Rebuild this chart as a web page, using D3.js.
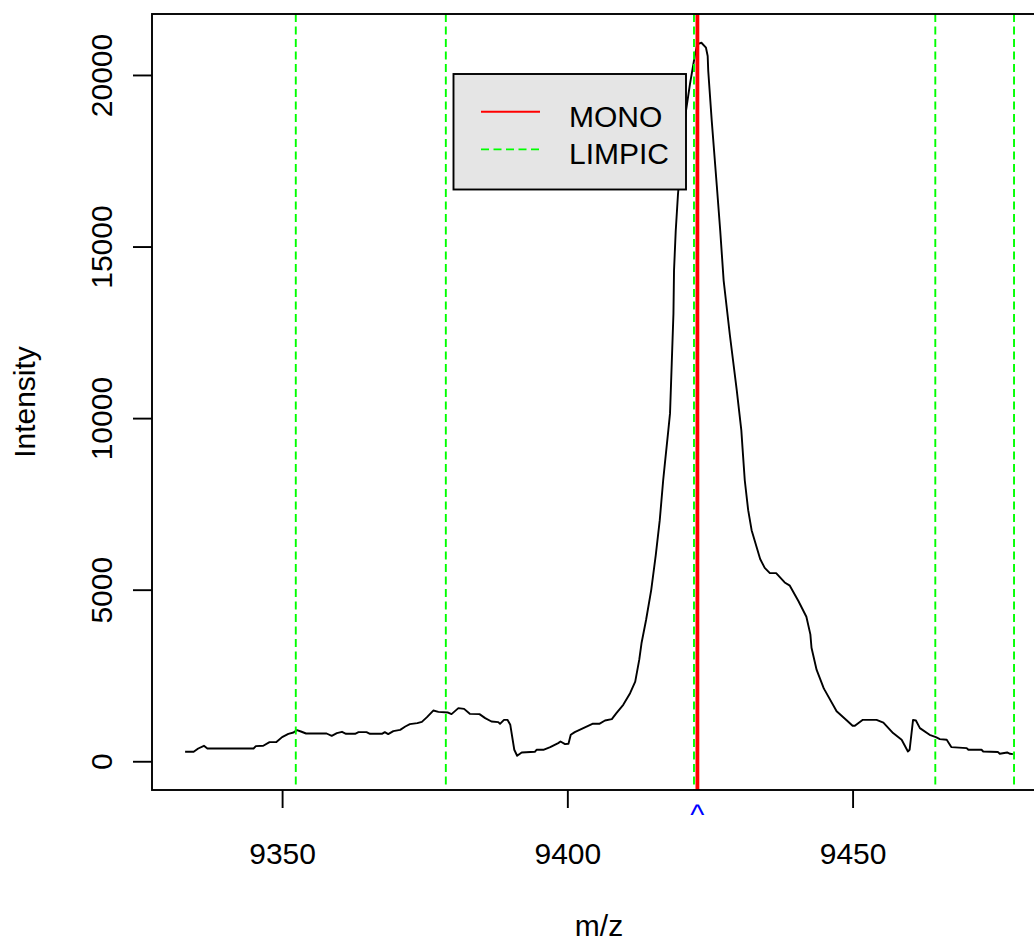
<!DOCTYPE html>
<html lang="en">
<head>
    <meta charset="UTF-8">
    <title>Spectrum peak</title>
    <script src="https://cdn.jsdelivr.net/npm/d3@7/dist/d3.min.js"></script>
    <style>
        body { margin: 0; background: #ffffff; }
        text { font-family: "Liberation Sans", Arial, sans-serif; }
    </style>
</head>
<body>
<script>
    // spectrum: m/z and intensity
    var mzValues = [
        9333.0, 9334.5, 9335.3, 9336.3, 9336.9, 9345.0, 9345.4, 9346.7, 9347.8, 9349.0,
        9350.0, 9351.1, 9352.0, 9352.6, 9353.3, 9354.2, 9357.8, 9358.7, 9359.6, 9360.5,
        9361.2, 9362.8, 9363.4, 9364.8, 9365.4, 9367.5, 9368.0, 9368.6, 9369.5, 9370.7,
        9371.6, 9372.4, 9373.7, 9374.5, 9375.4, 9376.5, 9377.4, 9379.1, 9379.7, 9380.9,
        9381.9, 9382.9, 9384.6, 9385.6, 9386.7, 9387.9, 9388.2, 9388.9, 9389.5, 9390.0,
        9390.7, 9391.2, 9392.0, 9394.3, 9394.6, 9395.8, 9397.0, 9398.4, 9398.8, 9399.6,
        9400.2, 9400.6, 9401.3, 9402.8, 9404.4, 9405.6, 9406.6, 9407.8, 9408.6, 9409.8,
        9411.0, 9411.9, 9412.6, 9413.0, 9413.8, 9414.7, 9415.5, 9416.2, 9416.8, 9417.1,
        9417.7, 9418.0, 9418.3, 9418.6, 9418.7, 9419.0, 9419.4, 9420.1, 9420.8, 9421.5,
        9422.4, 9422.8, 9423.5, 9424.3, 9424.6, 9424.7, 9425.3, 9426.2, 9426.8, 9427.4,
        9428.5, 9429.7, 9430.5, 9430.7, 9431.1, 9431.7, 9432.3, 9433.8, 9434.6, 9435.5,
        9436.6, 9438.1, 9439.0, 9440.5, 9441.9, 9442.6, 9442.8, 9443.7, 9444.9, 9445.1,
        9447.2, 9449.0, 9450.0, 9450.4, 9451.8, 9454.2, 9455.4, 9457.1, 9458.6, 9459.7,
        9460.0, 9460.6, 9461.1, 9461.8, 9463.5, 9464.6, 9465.3, 9466.5, 9467.3, 9470.0,
        9470.3, 9472.6, 9472.9, 9475.5, 9475.8, 9477.1, 9477.6, 9478.1
    ];
    var intensityValues = [
        276, 276, 372, 451, 372, 372, 442, 451, 559, 559,
        704, 800, 838, 908, 867, 809, 809, 742, 820, 858,
        800, 800, 849, 849, 800, 800, 849, 791, 879, 916,
        1012, 1082, 1111, 1149, 1286, 1478, 1440, 1420, 1373, 1548,
        1527, 1382, 1373, 1257, 1158, 1140, 1091, 1207, 1207, 1062,
        335, 160, 256, 276, 335, 335, 413, 529, 576, 500,
        509, 771, 849, 966, 1091, 1091, 1187, 1228, 1402, 1644,
        1984, 2321, 2953, 3438, 4116, 4989, 6007, 7025, 8189, 8683,
        9643, 10138, 11592, 13047, 14298, 15461, 16538, 17788, 18952, 19738,
        20610, 20901, 20939, 20794, 20552, 20116, 18690, 16770, 15461, 14007,
        12407, 10807, 9643, 9149, 8189, 7316, 6734, 5894, 5635, 5483,
        5483, 5210, 5117, 4669, 4212, 3697, 3308, 2662, 2144, 2080,
        1455, 1187, 1033, 1033, 1207, 1207, 1129, 820, 625, 285,
        335, 1207, 1187, 966, 771, 704, 646, 625, 413, 384,
        335, 335, 285, 268, 218, 256, 218, 209
    ];

    // marker positions
    var monoPosition = 9422.8;
    var limpicPositions = [9352.4, 9378.7, 9422.2, 9464.5, 9478.3];

    // ticks and labels
    var xTicks = [9350, 9400, 9450];
    var yTicks = [0, 5000, 10000, 15000, 20000];
    var legendLabels = ["MONO", "LIMPIC"];

    var widthSVG = 1034, heightSVG = 948;
    var plot = {left: 152, top: 14, right: 1046, bottom: 790};

    var svg = d3.select("body").append("svg")
        .attr("width", widthSVG)
        .attr("height", heightSVG);

    var points = mzValues.map(function (d, i) {
        return {mz: d, intensity: intensityValues[i]};
    });

    // R style 4% padding around the data range, y includes 0
    var xExt = d3.extent(mzValues);
    var xPad = (xExt[1] - xExt[0]) * 0.04;
    var yMax = d3.max(intensityValues);
    var yPad = yMax * 0.04;

    var scaleX = d3.scaleLinear()
        .domain([xExt[0] - xPad, xExt[1] + xPad])
        .range([plot.left, plot.right]);

    var scaleY = d3.scaleLinear()
        .domain([-yPad, yMax + yPad])
        .range([plot.bottom, plot.top]);

    // curve
    var line = d3.line()
        .x(function (d) { return scaleX(d.mz); })
        .y(function (d) { return scaleY(d.intensity); });

    svg.append("path")
        .datum(points)
        .attr("d", line)
        .attr("fill", "none")
        .attr("stroke", "#000000")
        .attr("stroke-width", 1.9)
        .attr("stroke-linejoin", "round");

    // LIMPIC lines
    svg.selectAll(".limpic")
        .data(limpicPositions)
        .enter()
        .append("line")
        .attr("class", "limpic")
        .attr("x1", function (d) { return scaleX(d); })
        .attr("x2", function (d) { return scaleX(d); })
        .attr("y1", plot.top)
        .attr("y2", plot.bottom)
        .attr("stroke", "#00ff00")
        .attr("stroke-width", 1.9)
        .attr("stroke-dasharray", "8,4.5");

    // MONO line
    svg.append("line")
        .attr("x1", scaleX(monoPosition))
        .attr("x2", scaleX(monoPosition))
        .attr("y1", plot.top)
        .attr("y2", plot.bottom)
        .attr("stroke", "#ff0000")
        .attr("stroke-width", 3.8);

    // box
    svg.append("rect")
        .attr("x", plot.left)
        .attr("y", plot.top)
        .attr("width", plot.right - plot.left)
        .attr("height", plot.bottom - plot.top)
        .attr("fill", "none")
        .attr("stroke", "#000000")
        .attr("stroke-width", 1.9);

    // axes
    var axisX = d3.axisBottom(scaleX).tickValues(xTicks).tickSize(18).tickPadding(35)
        .tickFormat(d3.format("d"));
    var gx = svg.append("g").attr("transform", "translate(0," + plot.bottom + ")").call(axisX);
    gx.select(".domain").remove();
    gx.selectAll("line").attr("stroke", "#000000").attr("stroke-width", 1.9);
    gx.selectAll("text").attr("font-size", "30px").attr("fill", "#000000")
        .attr("font-family", "Liberation Sans, Arial, sans-serif");

    var axisY = d3.axisLeft(scaleY).tickValues(yTicks).tickSize(19).tickFormat(d3.format("d"));
    var gy = svg.append("g").attr("transform", "translate(" + plot.left + ",0)").call(axisY);
    gy.select(".domain").remove();
    gy.selectAll("line").attr("stroke", "#000000").attr("stroke-width", 1.9);
    gy.selectAll("text")
        .attr("x", null)
        .attr("dy", null)
        .attr("transform", "translate(-40,0) rotate(-90)")
        .attr("text-anchor", "middle")
        .attr("font-size", "30px")
        .attr("fill", "#000000")
        .attr("font-family", "Liberation Sans, Arial, sans-serif");

    // axis titles
    svg.append("text")
        .attr("x", (plot.left + plot.right) / 2)
        .attr("y", 936)
        .attr("text-anchor", "middle")
        .attr("font-size", "30px")
        .text("m/z");

    svg.append("text")
        .attr("transform", "translate(35," + ((plot.top + plot.bottom) / 2) + ") rotate(-90)")
        .attr("text-anchor", "middle")
        .attr("font-size", "30px")
        .text("Intensity");

    // blue caret under the mono position
    svg.append("text")
        .attr("x", scaleX(monoPosition))
        .attr("y", 825)
        .attr("text-anchor", "middle")
        .attr("font-size", "30px")
        .attr("fill", "#0000ff")
        .text("^");

    // legend
    var legend = svg.append("g");
    legend.append("rect")
        .attr("x", 453.5)
        .attr("y", 74)
        .attr("width", 232.5)
        .attr("height", 115.5)
        .attr("fill", "#e5e5e5")
        .attr("stroke", "#000000")
        .attr("stroke-width", 1.9);

    var legendStyle = [
        {color: "#ff0000", dash: null},
        {color: "#00ff00", dash: "8,4.5"}
    ];
    legendLabels.forEach(function (label, i) {
        var ly = 111.7 + i * 37.7;
        legend.append("line")
            .attr("x1", 481).attr("x2", 540)
            .attr("y1", ly).attr("y2", ly)
            .attr("stroke", legendStyle[i].color)
            .attr("stroke-width", 1.9)
            .attr("stroke-dasharray", legendStyle[i].dash);
        legend.append("text")
            .attr("x", 569)
            .attr("y", ly + 14.8)
            .attr("font-size", "30px")
            .attr("fill", "#000000")
            .text(label);
    });
</script>
</body>
</html>
